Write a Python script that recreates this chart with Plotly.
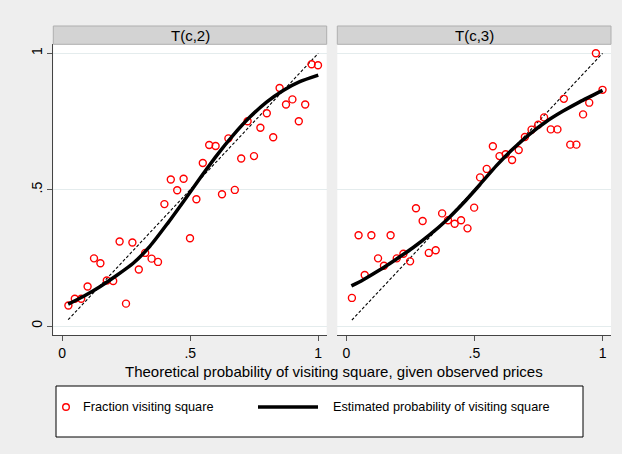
import plotly.graph_objects as go

# ---------------- data ----------------
x_c2 = [0.024, 0.049, 0.074, 0.099, 0.124, 0.149, 0.174, 0.199, 0.224, 0.249,
        0.274, 0.299, 0.324, 0.349, 0.374, 0.399, 0.424, 0.449, 0.474, 0.499,
        0.524, 0.549, 0.574, 0.599, 0.624, 0.649, 0.674, 0.699, 0.724, 0.749,
        0.774, 0.799, 0.824, 0.849, 0.874, 0.899, 0.924, 0.949, 0.974, 0.999]
y_c2 = [0.075, 0.100, 0.100, 0.145, 0.248, 0.230, 0.167, 0.165, 0.310, 0.082,
        0.306, 0.207, 0.268, 0.247, 0.235, 0.447, 0.537, 0.498, 0.540, 0.322,
        0.465, 0.598, 0.664, 0.660, 0.483, 0.688, 0.499, 0.614, 0.751, 0.623,
        0.727, 0.780, 0.692, 0.873, 0.812, 0.831, 0.751, 0.812, 0.960, 0.956]
fit_x_c2 = [0.023, 0.082, 0.147, 0.212, 0.277, 0.342, 0.408, 0.473, 0.538, 0.603,
            0.668, 0.733, 0.798, 0.863, 0.928, 1.0]
fit_y_c2 = [0.080, 0.108, 0.144, 0.185, 0.230, 0.292, 0.372, 0.456, 0.542, 0.625,
            0.700, 0.766, 0.821, 0.864, 0.896, 0.920]

x_c3 = [0.022, 0.048, 0.072, 0.098, 0.124, 0.147, 0.173, 0.197, 0.223, 0.249,
        0.272, 0.298, 0.322, 0.349, 0.374, 0.397, 0.423, 0.448, 0.473, 0.499,
        0.522, 0.548, 0.572, 0.598, 0.622, 0.647, 0.673, 0.697, 0.723, 0.749,
        0.772, 0.798, 0.824, 0.849, 0.874, 0.898, 0.924, 0.948, 0.974, 1.0]
y_c3 = [0.103, 0.333, 0.187, 0.333, 0.248, 0.221, 0.333, 0.248, 0.265, 0.237,
        0.432, 0.385, 0.268, 0.278, 0.413, 0.388, 0.375, 0.388, 0.358, 0.434,
        0.545, 0.576, 0.659, 0.623, 0.630, 0.609, 0.645, 0.693, 0.720, 0.738,
        0.765, 0.721, 0.721, 0.833, 0.665, 0.665, 0.776, 0.819, 1.0, 0.866]
fit_x_c3 = [0.020, 0.065, 0.130, 0.195, 0.260, 0.325, 0.391, 0.456, 0.521, 0.586,
            0.651, 0.716, 0.781, 0.846, 0.911, 1.0]
fit_y_c3 = [0.147, 0.169, 0.205, 0.245, 0.287, 0.334, 0.388, 0.450, 0.518, 0.588,
            0.650, 0.704, 0.750, 0.788, 0.822, 0.864]

diag_c2 = [0.023, 1.0]
diag_c3 = [0.022, 1.0]

panel_titles = ["T(c,2)", "T(c,3)"]
tick_vals = [0, 0.5, 1]
tick_text = ["0", ".5", "1"]
x_title = "Theoretical probability of visiting square, given observed prices"
legend_labels = ["Fraction visiting square", "Estimated probability of visiting square"]

# ---------------- figure ----------------
W, H = 622, 454
FONT = "Liberation Sans, Arial, sans-serif"
RED = "#FF0000"

def px_x(p):
    return p / W

def px_y(p):
    return (H - p) / H

fig = go.Figure()

for i, (xs, ys, fx, fy, dg) in enumerate([
        (x_c2, y_c2, fit_x_c2, fit_y_c2, diag_c2),
        (x_c3, y_c3, fit_x_c3, fit_y_c3, diag_c3)]):
    xa = "x" if i == 0 else "x2"
    ya = "y" if i == 0 else "y2"
    fig.add_trace(go.Scatter(x=dg, y=dg, mode="lines", xaxis=xa, yaxis=ya,
                             line=dict(color="black", width=1.1, dash="3px,2px"),
                             showlegend=False, hoverinfo="skip"))
    fig.add_trace(go.Scatter(x=xs, y=ys, mode="markers", xaxis=xa, yaxis=ya,
                             name=legend_labels[0], showlegend=False,
                             marker=dict(symbol="circle-open", size=7,
                                         color=RED, line=dict(width=1.4, color=RED))))
    fig.add_trace(go.Scatter(x=fx, y=fy, mode="lines", xaxis=xa, yaxis=ya,
                             name=legend_labels[1], showlegend=False,
                             line=dict(color="black", width=3.5, shape="spline",
                                       smoothing=0.6)))

dom_y = [px_y(335), px_y(44.3)]
dom_x1 = [px_x(53.3), px_x(326.7)]
dom_x2 = [px_x(337.3), px_x(611)]
xrange = [-0.035, 1.033]
yrange = [-0.033, 1.033]

axis_common = dict(range=xrange, tickvals=tick_vals, ticktext=tick_text,
                   ticks="outside", ticklen=5, tickcolor="#555555", tickwidth=1,
                   showline=True, linecolor="#444444", linewidth=1,
                   showgrid=False, zeroline=False,
                   tickfont=dict(family=FONT, size=14, color="black"))

fig.update_layout(
    width=W, height=H,
    margin=dict(l=0, r=0, t=0, b=0),
    paper_bgcolor="#EEEEEE",
    plot_bgcolor="white",
    showlegend=False,
    xaxis=dict(domain=dom_x1, anchor="y", **axis_common),
    xaxis2=dict(domain=dom_x2, anchor="y2", **axis_common),
    yaxis=dict(domain=dom_y, anchor="x", range=yrange, tickvals=tick_vals,
               ticktext=tick_text, ticks="outside", ticklen=5, tickcolor="#555555",
               showline=True, linecolor="#444444", linewidth=1, tickangle=-90,
               showgrid=True, gridcolor="#E4ECED", gridwidth=1, zeroline=False,
               tickfont=dict(family=FONT, size=14, color="black")),
    yaxis2=dict(domain=dom_y, anchor="x2", range=yrange, tickvals=tick_vals,
                showticklabels=False, ticks="", showline=False,
                showgrid=True, gridcolor="#E4ECED", gridwidth=1, zeroline=False),
)

shapes = []
annotations = []
for dom, title in zip([dom_x1, dom_x2], panel_titles):
    shapes.append(dict(type="rect", xref="paper", yref="paper",
                       x0=dom[0], x1=dom[1], y0=px_y(44.3), y1=px_y(26),
                       fillcolor="#D3D3D3", line=dict(color="#AFAFAF", width=1),
                       layer="above"))
    annotations.append(dict(text=title, xref="paper", yref="paper",
                            x=(dom[0] + dom[1]) / 2, y=px_y(35.2),
                            xanchor="center", yanchor="middle", showarrow=False,
                            font=dict(family=FONT, size=15, color="black")))

annotations.append(dict(text=x_title, xref="paper", yref="paper",
                        x=px_x(334), y=px_y(371), xanchor="center", yanchor="middle",
                        showarrow=False, font=dict(family=FONT, size=15, color="black")))

# legend box (drawn manually to match the original layout)
shapes.append(dict(type="rect", xref="paper", yref="paper",
                   x0=px_x(56), x1=px_x(583), y0=px_y(437), y1=px_y(386),
                   fillcolor="white", line=dict(color="black", width=1)))
ly = px_y(407)
shapes.append(dict(type="circle", xref="paper", yref="paper",
                   xsizemode="pixel", ysizemode="pixel",
                   xanchor=px_x(66), yanchor=ly, x0=-3.3, x1=3.3, y0=-3.3, y1=3.3,
                   line=dict(color=RED, width=1.4)))
shapes.append(dict(type="line", xref="paper", yref="paper",
                   x0=px_x(258), x1=px_x(318), y0=ly, y1=ly,
                   line=dict(color="black", width=3.5)))
annotations.append(dict(text=legend_labels[0], xref="paper", yref="paper",
                        x=px_x(81), y=ly, xanchor="left", yanchor="middle",
                        showarrow=False, font=dict(family=FONT, size=12.7, color="black")))
annotations.append(dict(text=legend_labels[1], xref="paper", yref="paper",
                        x=px_x(331), y=ly, xanchor="left", yanchor="middle",
                        showarrow=False, font=dict(family=FONT, size=12.7, color="black")))

fig.update_layout(shapes=shapes, annotations=annotations)

fig.write_html("out.html")
